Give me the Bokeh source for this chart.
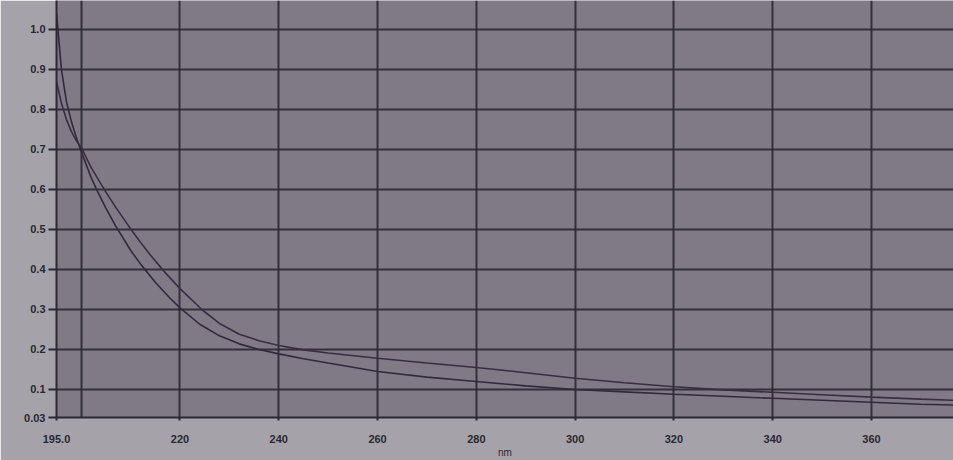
from bokeh.plotting import figure
from bokeh.models import FixedTicker, Range1d
from bokeh.embed import file_html
from bokeh.resources import INLINE

# wavelengths (nm) and absorbance, curve A (steeper, lower at long wavelengths)
wl_a = [195, 196, 197, 198, 199, 200, 202, 203.3, 205, 206.9, 210, 212.1, 215, 218, 220,
        224, 228, 232, 236, 240, 245, 250, 260, 270, 280, 290, 300, 310, 320, 330,
        340, 350, 360, 370, 377]
abs_a = [1.04, 0.90, 0.82, 0.77, 0.73, 0.695, 0.63, 0.595, 0.553, 0.51, 0.448, 0.412, 0.368, 0.328, 0.304,
         0.263, 0.234, 0.214, 0.200, 0.189, 0.177, 0.166, 0.145, 0.131, 0.120, 0.109, 0.100, 0.094, 0.088, 0.083,
         0.078, 0.073, 0.068, 0.063, 0.061]

# curve B (flatter, higher at long wavelengths)
wl_b = [195, 196, 197, 198, 199, 200, 202, 204.9, 207, 209.8, 212, 214, 217, 220, 224.6,
        228, 232, 236, 240, 245, 250, 260, 270, 280, 290, 300, 310, 320, 330, 340,
        350, 360, 370, 377]
abs_b = [0.87, 0.815, 0.775, 0.745, 0.722, 0.705, 0.655, 0.595, 0.555, 0.505, 0.468, 0.436, 0.392, 0.352, 0.298,
         0.265, 0.238, 0.222, 0.210, 0.199, 0.191, 0.178, 0.166, 0.155, 0.142, 0.128, 0.117, 0.107, 0.099, 0.093,
         0.087, 0.081, 0.076, 0.073]

x_ticks = [195, 220, 240, 260, 280, 300, 320, 340, 360]
x_grid = [200, 220, 240, 260, 280, 300, 320, 340, 360]
y_ticks = [0.03, 0.1, 0.2, 0.3, 0.4, 0.5, 0.6, 0.7, 0.8, 0.9, 1.0]
y_labels = {0.03: "0.03", 0.1: "0.1", 0.2: "0.2", 0.3: "0.3", 0.4: "0.4", 0.5: "0.5",
            0.6: "0.6", 0.7: "0.7", 0.8: "0.8", 0.9: "0.9", 1.0: "1.0"}

p = figure(width=953, height=460, output_backend="svg", toolbar_location=None,
           x_range=Range1d(195, 376.6), y_range=Range1d(0.03, 1.072),
           min_border_left=56, min_border_right=0, min_border_top=0, min_border_bottom=42,
           background_fill_color="#7f7a86", border_fill_color="#a5a3a9",
           outline_line_color=None)

grid_col = "#2b2733"
p.xaxis.ticker = FixedTicker(ticks=x_ticks)
p.xaxis.major_label_overrides = {195: "195.0"}
p.xgrid.ticker = FixedTicker(ticks=x_grid)
p.yaxis.ticker = FixedTicker(ticks=y_ticks)
p.yaxis.major_label_overrides = y_labels
p.ygrid.ticker = FixedTicker(ticks=y_ticks[1:])

for g in (p.xgrid, p.ygrid):
    g.grid_line_color = grid_col
    g.grid_line_width = 2
    g.grid_line_alpha = 0.9

for ax in (p.xaxis, p.yaxis):
    ax.axis_line_color = grid_col
    ax.axis_line_width = 2
    ax.major_tick_line_color = grid_col
    ax.major_tick_line_width = 2
    ax.minor_tick_line_color = None
    ax.major_tick_in = 0
    ax.major_label_text_font = "Liberation Sans"
    ax.major_label_text_font_size = "11px"
    ax.major_label_text_font_style = "bold"
    ax.major_label_text_color = "#2a2830"

p.xaxis.major_tick_out = 3
p.xaxis.major_label_standoff = 14
p.xaxis.axis_label = "nm"
p.xaxis.axis_label_text_font = "Liberation Sans"
p.xaxis.axis_label_text_font_size = "10px"
p.xaxis.axis_label_text_font_style = "normal"
p.xaxis.axis_label_text_color = "#2a2830"
p.xaxis.axis_label_standoff = 1

p.yaxis.major_tick_out = 8
p.yaxis.major_label_standoff = 3

p.line(wl_a, abs_a, line_color="#33293d", line_width=1.6)
p.line(wl_b, abs_b, line_color="#3a2c44", line_width=1.6)

open("out.html", "w").write(file_html(p, INLINE))
